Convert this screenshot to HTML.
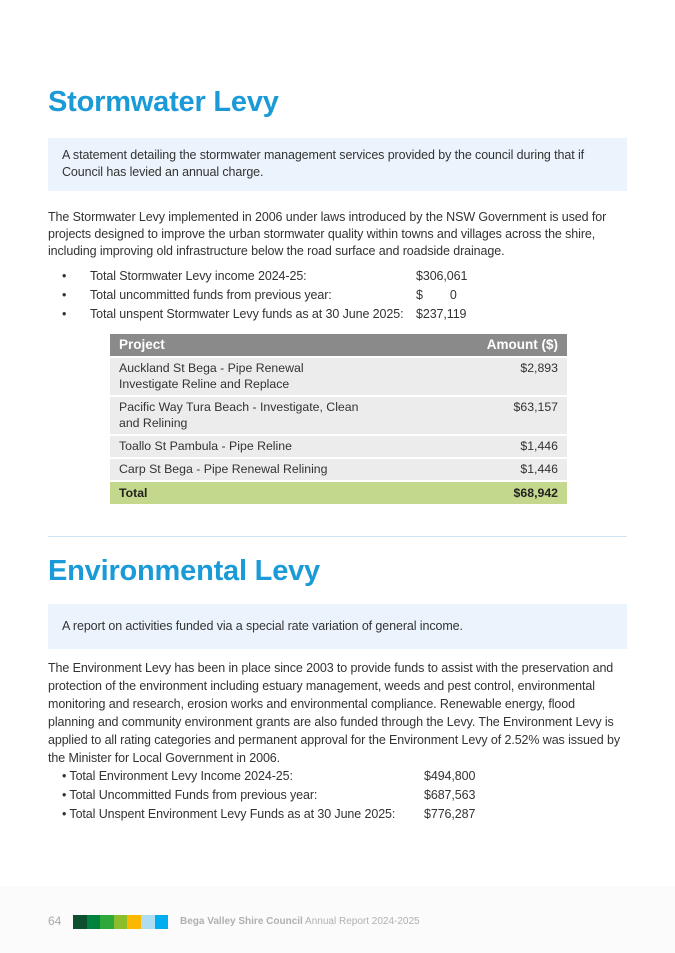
<!DOCTYPE html>
<html><head><meta charset="utf-8"><style>
body{margin:0;width:675px;height:953px;position:relative;background:#fff;font-family:"Liberation Sans",sans-serif;color:#333;overflow:hidden}
.a{position:absolute;white-space:nowrap}
.t{font-size:12.5px;letter-spacing:-0.1px}
h1{position:absolute;margin:0;font-size:29px;font-weight:bold;color:#1a9bd7;left:48px;letter-spacing:-0.2px}
.box{position:absolute;left:48px;width:579px;background:#ebf4fc}
table{position:absolute;left:110px;top:332px;width:457px;border-collapse:separate;border-spacing:0 2px;font-size:12.3px}
td{padding:2px 9px 3px;background:#ececec;vertical-align:top;line-height:16px}
td.r{text-align:right}
tr.h td{background:#8a8a8a;color:#fff;font-weight:bold;font-size:13.5px;padding:3px 9px}
tr.tot td{background:#c3d88c;font-weight:bold;color:#222;padding:3px 9px}
</style></head><body>
<h1 style="top:86px">Stormwater Levy</h1>
<div class="box" style="top:138px;height:53px"></div>
<div class="a t" style="left:62px;top:147px;line-height:17px">A statement detailing the stormwater management services provided by the council during that if<br>Council has levied an annual charge.</div>
<div class="a t" style="left:48px;top:209px;line-height:17px">The Stormwater Levy implemented in 2006 under laws introduced by the NSW Government is used for<br>projects designed to improve the urban stormwater quality within towns and villages across the shire,<br>including improving old infrastructure below the road surface and roadside drainage.</div>
<div class="a t" style="left:62px;top:267px;line-height:19px">•<br>•<br>•</div>
<div class="a t" style="left:90px;top:267px;line-height:19px">Total Stormwater Levy income 2024-25:<br>Total uncommitted funds from previous year:<br>Total unspent Stormwater Levy funds as at 30 June 2025:</div>
<div class="a t" style="left:416px;top:267px;line-height:19px">$306,061<br>$&nbsp;&nbsp;&nbsp;&nbsp;&nbsp;&nbsp;&nbsp;&nbsp;0<br>$237,119</div>
<table>
<tr class="h"><td>Project</td><td class="r">Amount ($)</td></tr>
<tr><td>Auckland St Bega - Pipe Renewal<br>Investigate Reline and Replace</td><td class="r">$2,893</td></tr>
<tr><td>Pacific Way Tura Beach - Investigate, Clean<br>and Relining</td><td class="r">$63,157</td></tr>
<tr><td>Toallo St Pambula - Pipe Reline</td><td class="r">$1,446</td></tr>
<tr><td>Carp St Bega - Pipe Renewal Relining</td><td class="r">$1,446</td></tr>
<tr class="tot"><td>Total</td><td class="r">$68,942</td></tr>
</table>
<div class="a" style="left:48px;top:536px;width:579px;height:1px;background:#cfe3f2"></div>
<h1 style="top:555px">Environmental Levy</h1>
<div class="box" style="top:604px;height:45px"></div>
<div class="a t" style="left:62px;top:619px">A report on activities funded via a special rate variation of general income.</div>
<div class="a t" style="left:48px;top:659px;line-height:18px">The Environment Levy has been in place since 2003 to provide funds to assist with the preservation and<br>protection of the environment including estuary management, weeds and pest control, environmental<br>monitoring and research, erosion works and environmental compliance. Renewable energy, flood<br>planning and community environment grants are also funded through the Levy. The Environment Levy is<br>applied to all rating categories and permanent approval for the Environment Levy of 2.52% was issued by<br>the Minister for Local Government in 2006.</div>
<div class="a t" style="left:62px;top:767px;line-height:19px">• Total Environment Levy Income 2024-25:<br>• Total Uncommitted Funds from previous year:<br>• Total Unspent Environment Levy Funds as at 30 June 2025:</div>
<div class="a t" style="left:424px;top:767px;line-height:19px">$494,800<br>$687,563<br>$776,287</div>
<div class="a" style="left:0;top:886px;width:675px;height:67px;background:#fbfbfb"></div>
<div class="a" style="left:48px;top:914px;font-size:12px;color:#aaa">64</div>
<div class="a" style="left:73px;top:915px;height:14px;display:flex">
<span style="width:13.6px;background:#0d5030"></span><span style="width:13.6px;background:#00843d"></span><span style="width:13.6px;background:#2fa83a"></span><span style="width:13.6px;background:#8bbe2a"></span><span style="width:13.6px;background:#fbb800"></span><span style="width:13.6px;background:#aedcf0"></span><span style="width:13.6px;background:#00aeef"></span></div>
<div class="a" style="left:180px;top:916px;font-size:10px;color:#b0b0b0"><b>Bega Valley Shire Council</b> Annual Report 2024-2025</div>
</body></html>
